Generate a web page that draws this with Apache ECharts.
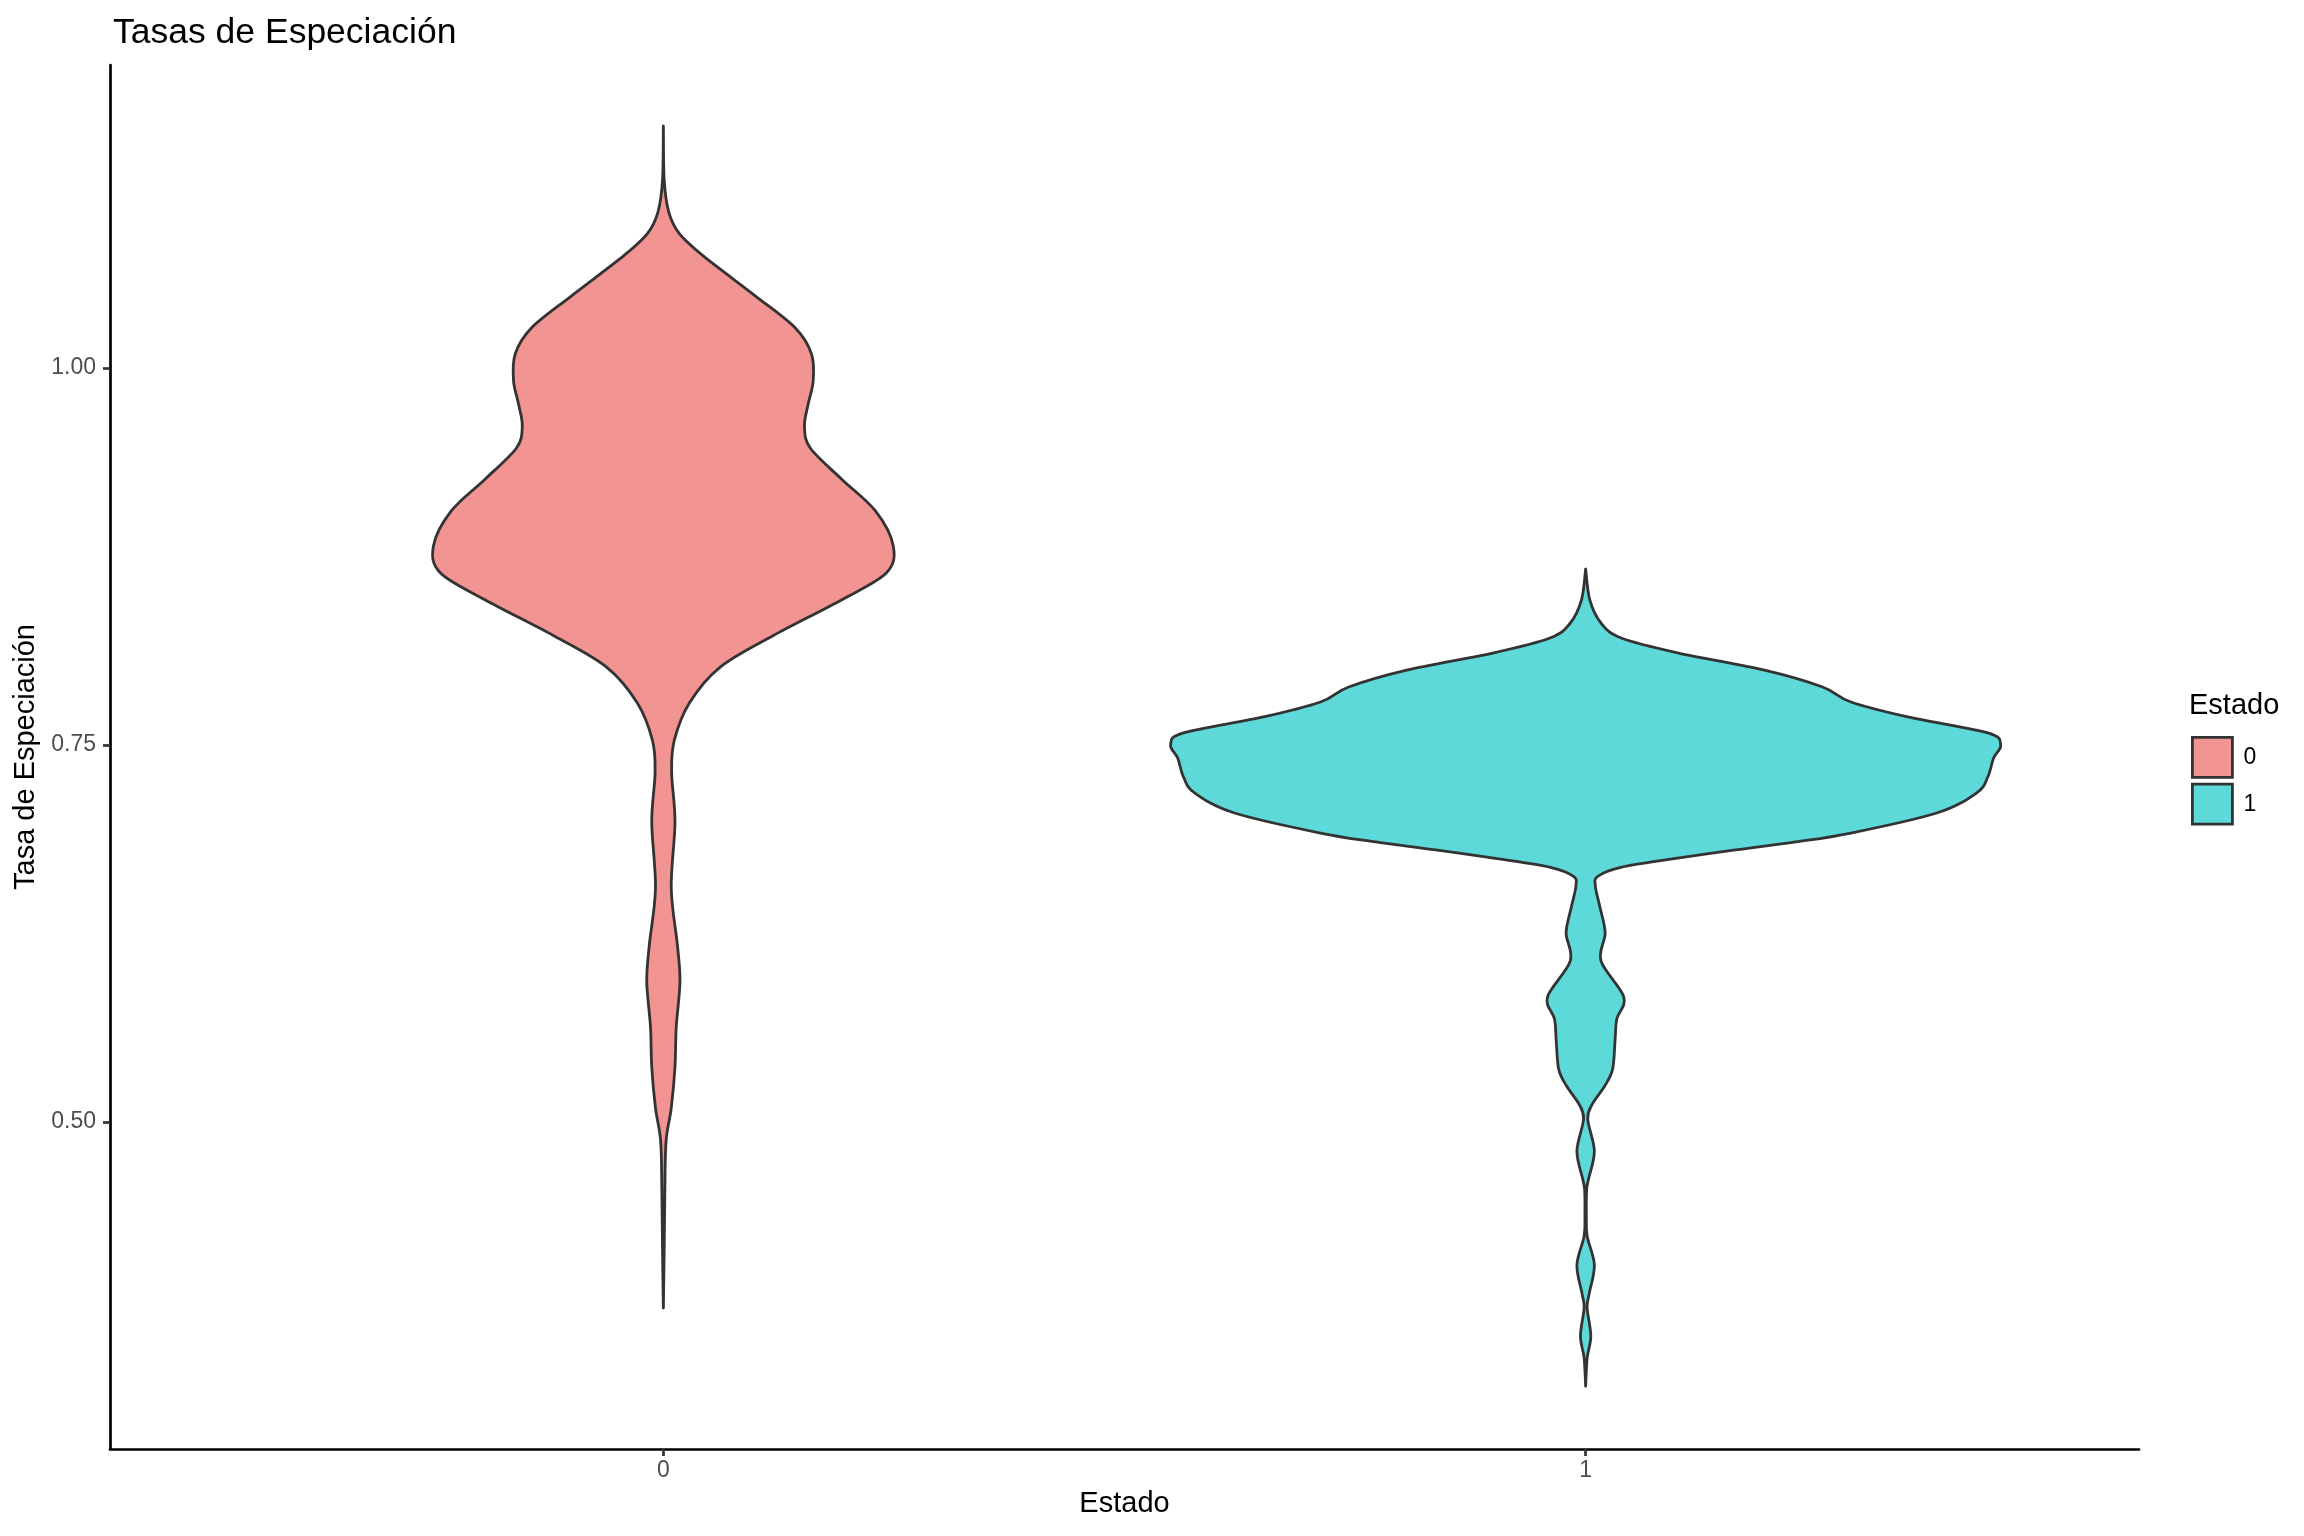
<!DOCTYPE html>
<html><head><meta charset="utf-8">
<script src="https://cdn.jsdelivr.net/npm/echarts@6/dist/echarts.min.js"></script>
<style>html,body{margin:0;padding:0;background:#fff}#c{width:2304px;height:1536px}</style>
</head><body><div id="c"></div>
<script>
// Categories and tick labels
const categories = ['0', '1'];
const yTicks = [0.50, 0.75, 1.00];

// Violin outlines: y value and relative half-width (1 = widest violin)
const violin0Y = [1.1605, 1.1247, 1.1034, 1.0889, 1.0743, 1.0477, 1.0265, 1.0093, 0.9914, 0.9761, 0.9615, 0.9469, 0.9264, 0.9052, 0.882, 0.864, 0.8462, 0.8223, 0.8017, 0.778, 0.7527, 0.7314, 0.699, 0.655, 0.617, 0.593, 0.563, 0.5365, 0.5093, 0.4874, 0.455, 0.4145, 0.3767];
const violin0D = [0, 0.002, 0.013, 0.039, 0.096, 0.222, 0.318, 0.357, 0.361, 0.349, 0.340, 0.354, 0.429, 0.511, 0.554, 0.537, 0.429, 0.263, 0.137, 0.063, 0.026, 0.020, 0.028, 0.019, 0.034, 0.040, 0.031, 0.028, 0.019, 0.0065, 0.0036, 0.002, 0];

const violin1Y = [0.8667, 0.8462, 0.8309, 0.821, 0.811, 0.7997, 0.7885, 0.7785, 0.7686, 0.758, 0.75, 0.7414, 0.7288, 0.7182, 0.7049, 0.6916, 0.6857, 0.6804, 0.6744, 0.6691, 0.6631, 0.6565, 0.6419, 0.6253, 0.6068, 0.5829, 0.5683, 0.5544, 0.5351, 0.5239, 0.5119, 0.5020, 0.4808, 0.4622, 0.4549, 0.4383, 0.4244, 0.4052, 0.3859, 0.3767, 0.3581, 0.3435, 0.3249];
const violin1D = [0, 0.010, 0.037, 0.086, 0.224, 0.431, 0.571, 0.639, 0.776, 0.969, 1.0, 0.983, 0.969, 0.942, 0.846, 0.639, 0.506, 0.361, 0.205, 0.087, 0.030, 0.0234, 0.035, 0.047, 0.037, 0.092, 0.075, 0.071, 0.065, 0.046, 0.016, 0.005, 0.021, 0.007, 0.0024, 0.0017, 0.0036, 0.021, 0.0084, 0.0036, 0.0125, 0.0036, 0];

const fills = ['#F29492', '#5ED9DA'];
const outline = '#333333';
const maxHalfWidth = 0.45;
const FONT = 'Liberation Sans';

const chart = echarts.init(document.getElementById('c'), null, { renderer: 'canvas' });

// Catmull-Rom spline through pixel points (open curve), returned as SVG path commands
function splinePath(p, start) {
  let d = start ? 'M' + p[0][0] + ' ' + p[0][1] : '';
  for (let i = 0; i < p.length - 1; i++) {
    const p0 = p[i - 1] || p[i], p1 = p[i], p2 = p[i + 1], p3 = p[i + 2] || p[i + 1];
    const t = 1 / 6;
    const c1 = [p1[0] + (p2[0] - p0[0]) * t, p1[1] + (p2[1] - p0[1]) * t];
    const c2 = [p2[0] - (p3[0] - p1[0]) * t, p2[1] - (p3[1] - p1[1]) * t];
    d += 'C' + c1[0] + ' ' + c1[1] + ' ' + c2[0] + ' ' + c2[1] + ' ' + p2[0] + ' ' + p2[1];
  }
  return d;
}

function makeRender(ys, ds, cat, fill) {
  return function (params, api) {
    if (params.dataIndex !== 0) return null;
    const left = [], right = [];
    for (let i = 0; i < ys.length; i++) left.push(api.coord([cat - ds[i] * maxHalfWidth, ys[i]]));
    for (let i = ys.length - 1; i >= 0; i--) right.push(api.coord([cat + ds[i] * maxHalfWidth, ys[i]]));
    const d = splinePath(left, true) + splinePath(right, false) + 'Z';
    return {
      type: 'path',
      shape: { pathData: d },
      style: { fill: fill, stroke: outline, lineWidth: 2.8, lineJoin: 'round' }
    };
  };
}

const groups = [[violin0Y, violin0D], [violin1Y, violin1D]];

chart.setOption({
  animation: false,
  backgroundColor: '#ffffff',
  title: [
    { text: 'Tasas de Especiación', left: 108, top: 10,
      textStyle: { fontFamily: FONT, fontSize: 35.5, fontWeight: 'normal', color: '#000' } },
    { text: 'Estado', left: 2184, top: 686,
      textStyle: { fontFamily: FONT, fontSize: 29, fontWeight: 'normal', color: '#000' } }
  ],
  grid: { left: 110, right: 165, top: 65, bottom: 87, containLabel: false },
  legend: {
    orient: 'vertical', left: 2186, top: 731,
    itemWidth: 40, itemHeight: 40, itemGap: 4, icon: 'rect',
    textStyle: { fontFamily: FONT, fontSize: 23, color: '#000', padding: [0, 0, 0, 6] },
    data: categories.map((c, i) => ({ name: c, itemStyle: { color: fills[i], borderColor: outline, borderWidth: 2.8 } }))
  },
  xAxis: {
    type: 'value', min: -0.6, max: 1.6,
    name: 'Estado', nameLocation: 'middle', nameGap: 40,
    nameTextStyle: { fontFamily: FONT, fontSize: 29, color: '#000' },
    axisLine: { show: true, onZero: false, lineStyle: { color: '#000', width: 2.7 } },
    axisTick: { show: true, customValues: [0, 1], length: 7, lineStyle: { color: '#333333', width: 2.7 } },
    axisLabel: { show: true, customValues: [0, 1], margin: 10, fontFamily: FONT, fontSize: 23, color: '#4D4D4D',
      formatter: v => categories[Math.round(v)] },
    splitLine: { show: false }
  },
  yAxis: {
    type: 'value', min: 0.2832, max: 1.2009,
    name: 'Tasa de Especiación', nameLocation: 'middle', nameGap: 69,
    nameTextStyle: { fontFamily: FONT, fontSize: 29, color: '#000' },
    axisLine: { show: true, onZero: false, lineStyle: { color: '#000', width: 2.7 } },
    axisTick: { show: true, customValues: yTicks, length: 7, lineStyle: { color: '#333333', width: 2.7 } },
    axisLabel: { show: true, customValues: yTicks, margin: 14, fontFamily: FONT, fontSize: 23, color: '#4D4D4D',
      formatter: v => v.toFixed(2) },
    splitLine: { show: false }
  },
  series: groups.map((g, i) => ({
    type: 'custom',
    name: categories[i],
    coordinateSystem: 'cartesian2d',
    itemStyle: { color: fills[i], borderColor: outline, borderWidth: 2.8 },
    renderItem: makeRender(g[0], g[1], i, fills[i]),
    encode: { x: 0, y: 1 },
    data: g[0].map(y => [i, y])
  }))
});
</script></body></html>
